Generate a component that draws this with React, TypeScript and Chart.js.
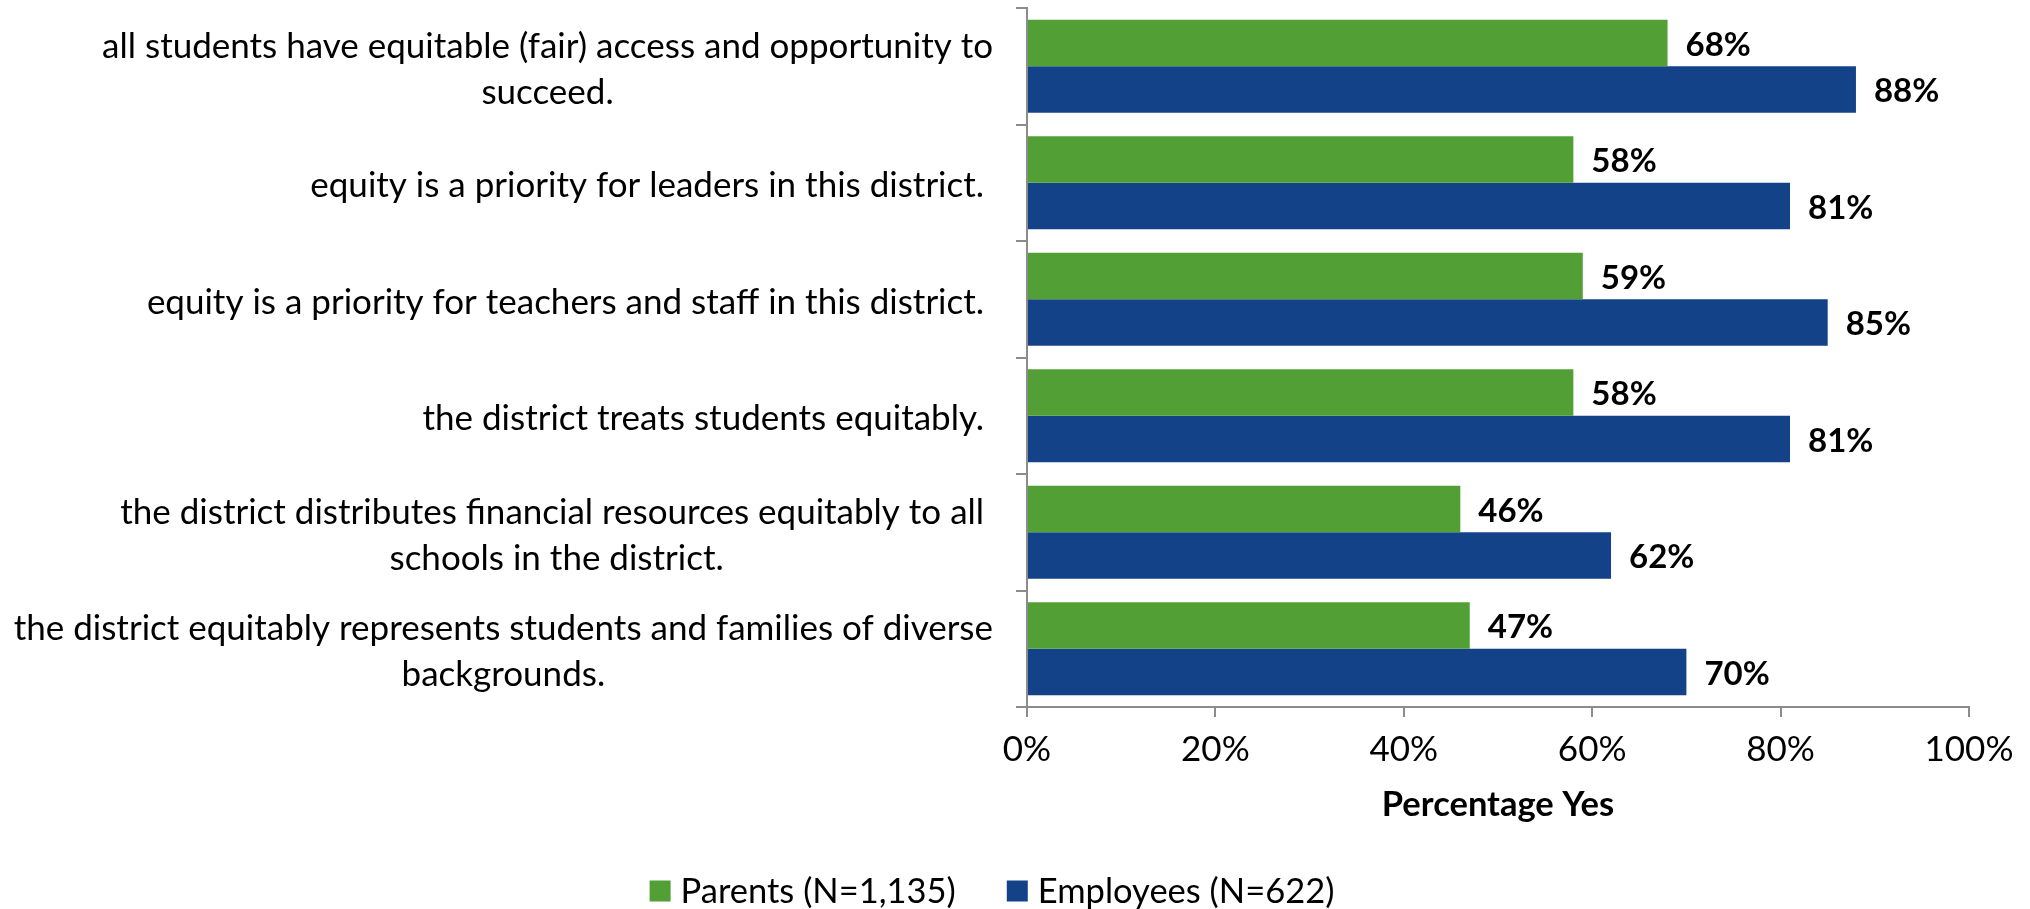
import React, { useEffect, useRef } from "react";
import { Chart, registerables } from "chart.js";

Chart.register(...registerables);

const categories: string[][] = [
  ["all students have equitable (fair) access and opportunity to", "succeed."],
  ["equity is a priority for leaders in this district. "],
  ["equity is a priority for teachers and staff in this district. "],
  ["the district treats students equitably. "],
  ["the district distributes financial resources equitably to all ", "schools in the district."],
  ["the district equitably represents students and families of diverse", "backgrounds."],
];
const parents = [68, 58, 59, 58, 46, 47];
const employees = [88, 81, 85, 81, 62, 70];
const xTicks = [0, 20, 40, 60, 80, 100];
const seriesNames = ["Parents (N=1,135)", "Employees (N=622)"];
const seriesColors = ["#52A035", "#134289"];
const xTitle = "Percentage Yes";

const FONT = "Lato, 'Noto Sans', sans-serif";
const CAT_SIZE = 35;
const TICK_SIZE = 35;
const TITLE_SIZE = 34.5;
const LEGEND_SIZE = 34.5;
const VALUE_SIZE = 33;
const AXIS_COLOR = "#8C8C8C";

const categoryLabelPlugin = {
  id: "categoryLabels",
  afterDraw(chart: any) {
    const { ctx, chartArea, scales } = chart;
    const y = scales.y;
    ctx.save();
    ctx.font = `${CAT_SIZE}px ${FONT}`;
    ctx.fillStyle = "#000";
    ctx.textAlign = "center";
    ctx.textBaseline = "middle";
    const rightX = chartArea.left - 34;
    const lh = 46;
    categories.forEach((lines, i) => {
      const cy = y.getPixelForValue(i) + 3;
      const w = Math.max(...lines.map((l) => ctx.measureText(l).width));
      const cx = rightX - w / 2;
      lines.forEach((l, k) => {
        ctx.fillText(l, cx, cy + (k - (lines.length - 1) / 2) * lh);
      });
    });
    ctx.restore();
  },
};

const valueLabelPlugin = {
  id: "valueLabels",
  afterDatasetsDraw(chart: any) {
    const { ctx } = chart;
    ctx.save();
    ctx.font = `bold ${VALUE_SIZE}px ${FONT}`;
    ctx.fillStyle = "#000";
    ctx.textAlign = "left";
    ctx.textBaseline = "middle";
    chart.data.datasets.forEach((ds: any, di: number) => {
      const meta = chart.getDatasetMeta(di);
      meta.data.forEach((bar: any, i: number) => {
        ctx.fillText(`${ds.data[i]}%`, bar.x + 18, bar.y + 2);
      });
    });
    ctx.restore();
  },
};

const legendPlugin = {
  id: "customLegend",
  afterDraw(chart: any) {
    const { ctx } = chart;
    ctx.save();
    ctx.font = `${LEGEND_SIZE}px ${FONT}`;
    ctx.textBaseline = "middle";
    ctx.textAlign = "left";
    const box = 21;
    const gapBoxText = 10;
    const gapItems = 51;
    const items = chart.data.datasets.map((ds: any) => ({
      text: ds.label,
      color: ds.backgroundColor,
      w: ctx.measureText(ds.label).width,
    }));
    const total = items.reduce((s: number, it: any) => s + box + gapBoxText + it.w, 0) + gapItems * (items.length - 1);
    const centerX = 992;
    let x = centerX - total / 2;
    const cy = 891;
    items.forEach((it: any) => {
      ctx.fillStyle = it.color;
      ctx.fillRect(x, cy - box / 2, box, box);
      ctx.fillStyle = "#000";
      ctx.fillText(it.text, x + box + gapBoxText, cy + 1);
      x += box + gapBoxText + it.w + gapItems;
    });
    ctx.restore();
  },
};

export default function App() {
  const ref = useRef<HTMLCanvasElement>(null);
  useEffect(() => {
    if (!ref.current) return;
    const chart = new Chart(ref.current, {
      type: "bar",
      data: {
        labels: categories,
        datasets: [
          { label: seriesNames[0], data: parents, backgroundColor: seriesColors[0], categoryPercentage: 0.8, barPercentage: 1.0 },
          { label: seriesNames[1], data: employees, backgroundColor: seriesColors[1], categoryPercentage: 0.8, barPercentage: 1.0 },
        ],
      },
      options: {
        indexAxis: "y",
        responsive: false,
        animation: false,
        layout: { padding: { left: 1016, right: 61, top: 8, bottom: 0 } },
        plugins: {
          legend: { display: false },
          tooltip: { enabled: false },
        },
        scales: {
          x: {
            min: 0,
            max: 100,
            afterBuildTicks: (scale: any) => {
              scale.ticks = xTicks.map((v) => ({ value: v }));
            },
            afterFit: (scale: any) => {
              scale.height = 202;
            },
            grid: { drawOnChartArea: false, tickLength: 10, color: AXIS_COLOR, lineWidth: 2 },
            border: { color: AXIS_COLOR, width: 2 },
            ticks: {
              color: "#000",
              padding: 12,
              font: { family: FONT, size: TICK_SIZE },
              callback: (v: any) => `${v}%`,
              maxRotation: 0,
            },
            title: {
              display: true,
              text: xTitle,
              color: "#000",
              font: { family: FONT, size: TITLE_SIZE, weight: "bold" },
              padding: { top: 0, bottom: 83 },
            },
          },
          y: {
            afterFit: (scale: any) => {
              scale.width = 11;
            },
            grid: { drawOnChartArea: false, tickLength: 11, color: AXIS_COLOR, lineWidth: 2, offset: true },
            border: { color: AXIS_COLOR, width: 2 },
            ticks: { display: false },
          },
        },
      },
      plugins: [categoryLabelPlugin, valueLabelPlugin, legendPlugin],
    });
    return () => chart.destroy();
  }, []);
  return (
    <div style={{ position: "absolute", left: 0, top: 0, width: 2030, height: 909, background: "#fff" }}>
      <canvas ref={ref} width={2030} height={909} style={{ display: "block" }} />
    </div>
  );
}
